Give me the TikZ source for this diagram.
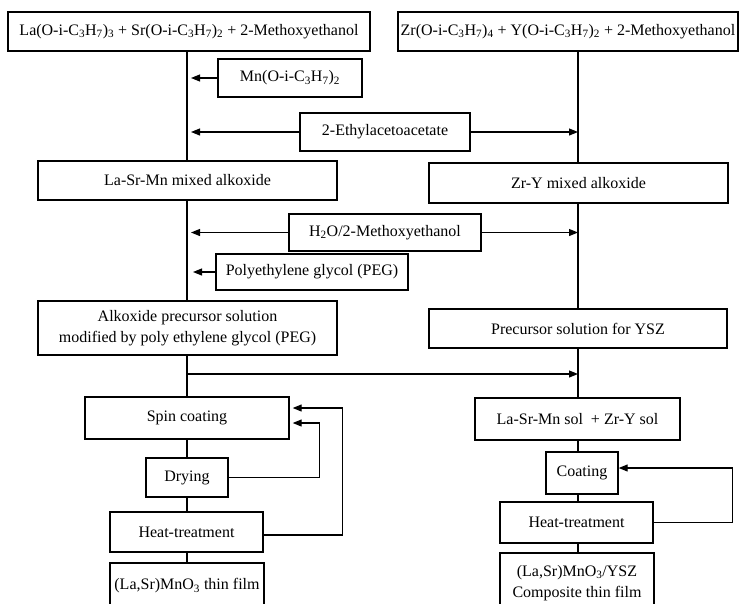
\documentclass[tikz,border=0pt]{standalone}
\usepackage{fontspec}
\setmainfont{Liberation Serif}
\usetikzlibrary{arrows.meta}
\newcommand{\sbs}[1]{\textsubscript{#1}}
\begin{document}
\begin{tikzpicture}[x=1pt,y=-1pt,
  box/.style={draw, line width=1.4pt, inner sep=2pt, align=center,
    font=\fontsize{16}{21}\selectfont},
  wh/.style 2 args={minimum width=#1pt, minimum height=#2pt},
  conn/.style={line width=1.1pt},
  arr/.style={conn, -{Triangle[length=9pt,width=7pt]}}]
\clip (0,0) rectangle (742,603);
\useasboundingbox (0,0) rectangle (742,603);
\fill[white] (0,0) rectangle (742,603);

\coordinate (trunkL) at (187,0);
\coordinate (trunkR) at (578,0);
\coordinate (tipL) at (191,0);
\coordinate (tipP) at (193,0);

% nodes
\node[box, wh={362}{39}] (TL) at (189,31.5)
  {La(O-i-C\sbs{3}H\sbs{7})\sbs{3} + Sr(O-i-C\sbs{3}H\sbs{7})\sbs{2} + 2-Methoxyethanol};
\node[box, wh={340}{39}] (TR) at (568,31.5)
  {Zr(O-i-C\sbs{3}H\sbs{7})\sbs{4} + Y(O-i-C\sbs{3}H\sbs{7})\sbs{2} + 2-Methoxyethanol};
\node[box, wh={144}{38}] (Mn) at (290,78) {Mn(O-i-C\sbs{3}H\sbs{7})\sbs{2}};
\node[box, wh={170}{38}] (Eth) at (385,132) {2-Ethylacetoacetate};
\node[box, wh={299}{39}] (LSM) at (187.5,180.5) {La-Sr-Mn mixed alkoxide};
\node[box, wh={299}{40}] (ZY) at (578.5,183) {Zr-Y mixed alkoxide};
\node[box, wh={192}{37}] (HO) at (385,232.5) {H\sbs{2}O/2-Methoxyethanol};
\node[box, wh={192}{36}] (PEG) at (312,272) {Polyethylene glycol (PEG)};
\node[box, wh={299}{54}] (Alk) at (187.5,328)
  {Alkoxide precursor solution\\modified by poly ethylene glycol (PEG)};
\node[box, wh={298}{39}] (YSZ) at (578,328.5) {Precursor solution for YSZ};
\node[box, wh={204}{42}] (Spin) at (187,418) {Spin coating};
\node[box, wh={82}{39}] (Dry) at (187,477.5) {Drying};
\node[box, wh={153}{40}] (HeatL) at (186.5,532) {Heat-treatment};
\node[box, wh={154}{46}] (FilmL) at (187,586) {(La,Sr)MnO\sbs{3} thin film};
\node[box, wh={205}{42}] (Mix) at (577.5,419) {La-Sr-Mn sol\ \ + Zr-Y sol};
\node[box, wh={72}{42}] (Coat) at (582,473) {Coating};
\node[box, wh={153}{41}] (HeatR) at (576.5,522.5) {Heat-treatment};
\node[box, wh={154}{60}] (FilmR) at (577,583)
  {(La,Sr)MnO\sbs{3}/YSZ\\Composite thin film};

% left trunk
\draw[conn] (TL.south -| trunkL) -- (LSM.north -| trunkL);
\draw[conn] (LSM.south -| trunkL) -- (Alk.north -| trunkL);
\draw[conn] (Alk.south -| trunkL) -- (Spin.north -| trunkL);
\draw[conn] (Spin.south -| trunkL) -- (Dry.north -| trunkL);
\draw[conn] (Dry.south -| trunkL) -- (HeatL.north -| trunkL);
\draw[conn] (HeatL.south -| trunkL) -- (FilmL.north -| trunkL);
% right trunk
\draw[conn] (TR.south -| trunkR) -- (ZY.north -| trunkR);
\draw[conn] (ZY.south -| trunkR) -- (YSZ.north -| trunkR);
\draw[conn] (YSZ.south -| trunkR) -- (Mix.north -| trunkR);
\draw[conn] (Mix.south -| trunkR) -- (Coat.north -| trunkR);
\draw[conn] (Coat.south -| trunkR) -- (HeatR.north -| trunkR);
\draw[conn] (HeatR.south -| trunkR) -- (FilmR.north -| trunkR);

% additions
\draw[arr] (Mn.west) -- (Mn.west -| tipL);
\draw[arr] (Eth.west) -- (Eth.west -| tipL);
\draw[arr] (Eth.east) -- (Eth.east -| trunkR);
\draw[arr] (HO.west) -- (HO.west -| tipL);
\draw[arr] (HO.east) -- (HO.east -| trunkR);
\draw[arr] (PEG.west) -- (PEG.west -| tipP);

% cross arrow
\coordinate (crossL) at (187,374);
\coordinate (crossR) at (578,374);
\draw[arr] (crossL) -- (crossR);

% feedback loops
\draw[arr, shorten >=3pt] (Dry.east) -- ++(91,0) |- ([yshift=-5pt]Spin.east);
\draw[arr, shorten >=3pt] ([yshift=-3pt]HeatL.east) -- ++(79,0) |- ([yshift=10pt]Spin.east);
\draw[arr] (HeatR.east) -- ++(79,0) |- ([yshift=5pt]Coat.east);
\end{tikzpicture}
\end{document}
